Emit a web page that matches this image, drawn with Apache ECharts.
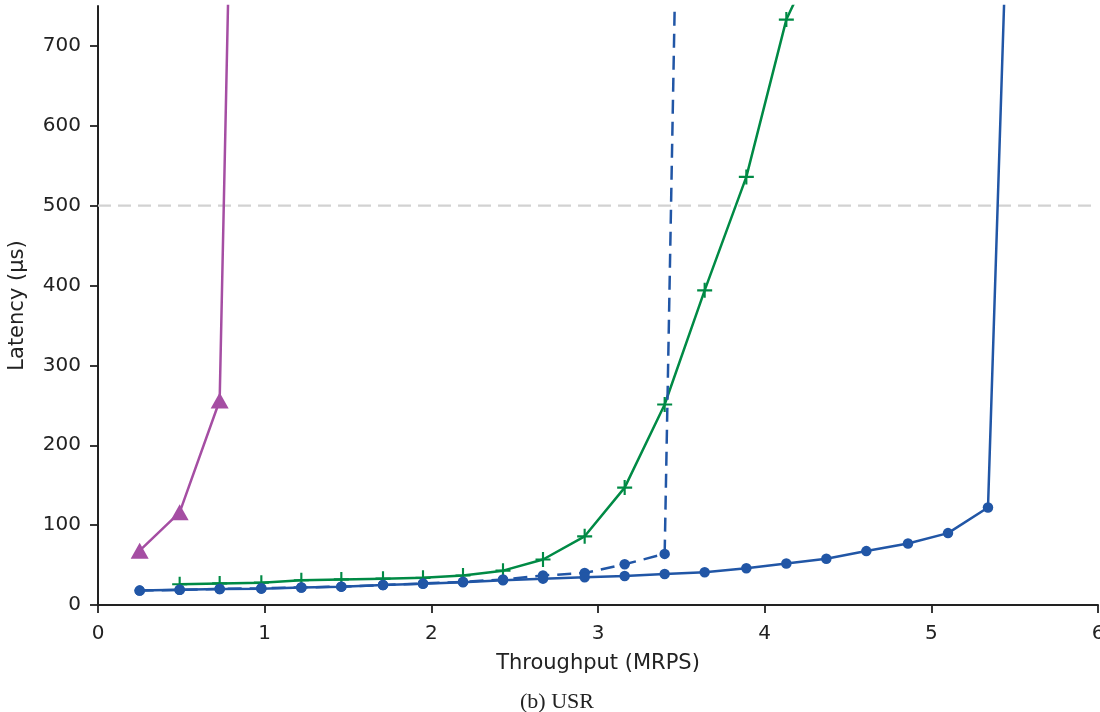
<!DOCTYPE html>
<html>
<head>
<meta charset="utf-8">
<script src="https://cdn.jsdelivr.net/npm/echarts@6/dist/echarts.min.js"></script>
<style>
html,body{margin:0;padding:0;background:#fff;}
#chart{width:1100px;height:712px;}
</style>
</head>
<body>
<div id="chart"></div>
<script>
// ---- data ----
const purpleX = [0.25, 0.49, 0.73, 0.98];
const purpleY = [68, 116, 256, 2730];

const greenX = [0.49, 0.73, 0.98, 1.22, 1.46, 1.71, 1.95, 2.19, 2.43, 2.67, 2.92, 3.16, 3.40, 3.64, 3.89, 4.13, 4.37];
const greenY = [26, 27, 28, 31, 32, 33, 34, 37, 43, 57, 86, 147, 251, 394, 536, 733, 840];

const dashedX = [0.25, 0.49, 0.73, 0.98, 1.22, 1.46, 1.71, 1.95, 2.19, 2.43, 2.67, 2.92, 3.16, 3.40, 3.64];
const dashedY = [18, 19, 20, 21, 22, 23, 25, 27, 29, 32, 37, 40, 51, 64, 2800];

const solidX = [0.25, 0.49, 0.73, 0.98, 1.22, 1.46, 1.71, 1.95, 2.19, 2.43, 2.67, 2.92, 3.16, 3.40, 3.64, 3.89, 4.13, 4.37, 4.61, 4.86, 5.10, 5.34, 5.58];
const solidY = [18, 19, 20, 20.5, 22, 23, 25, 26.5, 28.4, 31, 33, 34.6, 36.3, 38.8, 41, 46, 52, 58, 67.5, 77, 90, 122, 1690];

const xTicks = [0, 1, 2, 3, 4, 5, 6];
const yTicks = [0, 100, 200, 300, 400, 500, 600, 700];
const sloLatency = 500;

const xLabel = 'Throughput (MRPS)';
const yLabel = 'Latency (µs)';
const caption = '(b) USR';

// ---- chart ----
const zip = (xs, ys) => xs.map((x, i) => [x, ys[i]]);
const PURPLE = '#a54ea3', GREEN = '#008a45', BLUE = '#2156a6';
const AX = '#222222';
const FONT = 'DejaVu Sans';
const plus = 'path://M6,0h2v6h6v2h-6v6h-2v-6h-6v-2h6z';

const chart = echarts.init(document.getElementById('chart'), null, {renderer: 'canvas'});
chart.setOption({
  animation: false,
  backgroundColor: '#ffffff',
  grid: {left: 98, right: 2, top: 6, bottom: 107, containLabel: false, outerBoundsMode: 'none'},
  xAxis: {
    type: 'value', min: xTicks[0], max: xTicks[xTicks.length - 1], interval: 1,
    name: xLabel, nameLocation: 'middle', nameGap: 48,
    nameTextStyle: {fontFamily: FONT, fontSize: 21, color: AX},
    axisLine: {show: true, onZero: false, lineStyle: {color: AX, width: 2}},
    axisTick: {show: true, length: 8, lineStyle: {color: AX, width: 1.8}},
    axisLabel: {fontFamily: FONT, fontSize: 20, color: AX, margin: 19, showMaxLabel: true, showMinLabel: true, hideOverlap: false},
    splitLine: {show: false}
  },
  yAxis: {
    type: 'value', min: 0, max: 750,
    name: yLabel, nameLocation: 'middle', nameGap: 70, nameRotate: 90,
    nameTextStyle: {fontFamily: FONT, fontSize: 21, color: AX},
    axisLine: {show: true, lineStyle: {color: AX, width: 2}},
    axisTick: {show: true, length: 8, customValues: yTicks, lineStyle: {color: AX, width: 1.8}},
    axisLabel: {fontFamily: FONT, fontSize: 20, color: AX, margin: 17, customValues: yTicks},
    splitLine: {show: false}
  },
  graphic: [{
    type: 'text', x: 557, y: 702,
    style: {text: caption, font: '22px "Liberation Serif", "DejaVu Serif", serif', fill: AX, align: 'center', verticalAlign: 'middle'}
  }],
  series: [
    {
      type: 'line', data: [[0, sloLatency], [6, sloLatency]], symbol: 'none', silent: true, z: 1,
      lineStyle: {color: '#d2d2d2', width: 2.2, type: [13, 7]}
    },
    {
      type: 'line', data: zip(purpleX, purpleY), clip: true,
      symbol: 'triangle', symbolSize: [18, 16], showAllSymbol: true,
      itemStyle: {color: PURPLE}, lineStyle: {color: PURPLE, width: 2.5}, z: 3
    },
    {
      type: 'line', data: zip(greenX, greenY), clip: true,
      symbol: plus, symbolSize: 15, showAllSymbol: true,
      itemStyle: {color: GREEN}, lineStyle: {color: GREEN, width: 2.5}, z: 3
    },
    {
      type: 'line', data: zip(dashedX, dashedY), clip: true,
      symbol: 'circle', symbolSize: 10.5, showAllSymbol: true,
      itemStyle: {color: BLUE}, lineStyle: {color: BLUE, width: 2.5, type: [14, 8]}, z: 3
    },
    {
      type: 'line', data: zip(solidX, solidY), clip: true,
      symbol: 'circle', symbolSize: 10.5, showAllSymbol: true,
      itemStyle: {color: BLUE}, lineStyle: {color: BLUE, width: 2.5}, z: 4
    }
  ]
});
</script>
</body>
</html>
